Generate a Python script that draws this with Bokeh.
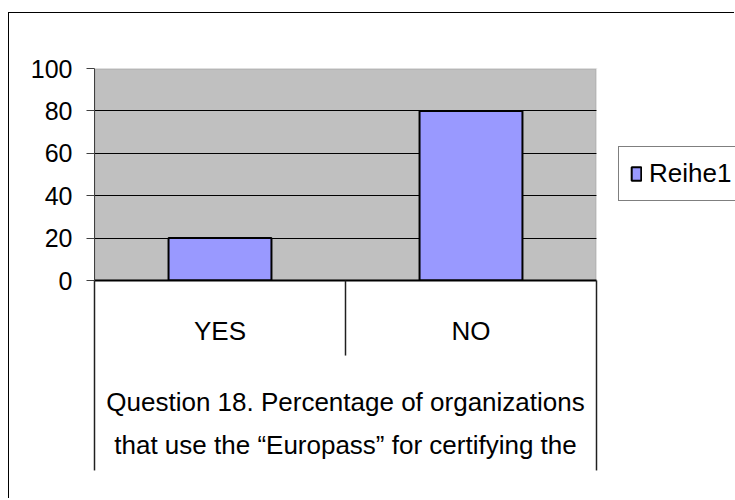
from bokeh.plotting import figure
from bokeh.models import Range1d, FixedTicker, Legend, LegendItem, BoxAnnotation
from bokeh.core.properties import value
from bokeh.embed import file_html
from bokeh.resources import INLINE

# ---- data ----
categories = ["YES", "NO"]
values = [20, 80]
y_ticks = [0, 20, 40, 60, 80, 100]
series_name = "Reihe1"
title_lines = ["Question 18. Percentage of organizations",
               "that use the \u201cEuropass\u201d for certifying the"]

FONT = "Liberation Sans"
BAR = "#9999FF"
PLOT_BG = "#C0C0C0"

n = len(categories)
xs = [i + 0.5 for i in range(n)]          # category centres
bounds = list(range(n + 1))               # category boundaries
# frame is wider than the category area (legend sits to the right)
x_end = n * 641.0 / 502.0

p = figure(width=726, height=486, x_range=Range1d(0, x_end), y_range=Range1d(0, 100),
           output_backend="svg", toolbar_location=None,
           min_border_left=85, min_border_right=0, min_border_top=55, min_border_bottom=219)
p.margin = (12, 0, 0, 8)
p.styles = {"border-left": "1px solid black", "border-top": "1px solid black"}
p.background_fill_color = "white"
p.border_fill_color = "white"
p.outline_line_color = None

# grey plot area limited to the category region
p.add_layout(BoxAnnotation(left=0, right=n, bottom=0, top=100, fill_color=PLOT_BG, fill_alpha=1,
                           line_color="#808080", line_width=2, level="image"))

p.xgrid.visible = False
p.ygrid.grid_line_color = "black"
p.ygrid.grid_line_width = 1
p.ygrid.ticker = FixedTicker(ticks=y_ticks)
# keep the grid lines inside the category region
p.add_layout(BoxAnnotation(left=n, fill_color="white", fill_alpha=1, line_color=None,
                           level="underlay"))

bars = p.vbar(x=xs, top=values, width=0.41, fill_color=BAR,
              line_color="black", line_width=2)

# y axis
ya = p.yaxis[0]
ya.ticker = FixedTicker(ticks=y_ticks)
ya.major_tick_out = 8
ya.major_tick_in = 0
ya.minor_tick_out = 0
ya.minor_tick_in = 0
ya.axis_line_color = "#404040"
ya.axis_line_width = 1
ya.major_tick_line_color = "#404040"
ya.major_label_standoff = 14
ya.major_label_text_font = FONT
ya.major_label_text_font_size = "25px"
ya.major_label_text_color = "black"

# x axis (categories)
xa = p.xaxis[0]
xa.ticker = FixedTicker(ticks=xs)
xa.major_label_overrides = {x: c for x, c in zip(xs, categories)}
xa.bounds = (0, n)
xa.major_tick_out = 0
xa.major_tick_in = 0
xa.minor_tick_out = 0
xa.minor_tick_in = 0
xa.axis_line_color = "black"
xa.axis_line_width = 2
xa.major_label_standoff = 35
xa.major_label_text_font = FONT
xa.major_label_text_font_size = "26px"
xa.major_label_text_color = "black"

# category separators below the axis
inner_len = -35.4
outer_len = -89.6
p.segment(x0=bounds, x1=bounds, y0=[0] * len(bounds),
          y1=[outer_len if b in (0, n) else inner_len for b in bounds],
          line_color="#202020", line_width=1.5, level="overlay")

# axis title (two visible lines)
p.text(x=[n / 2] * len(title_lines), y=[-57.2, -77.6], text=title_lines,
       text_align="center", text_baseline="alphabetic",
       text_font=value(FONT), text_font_size="26px", text_color="black", level="overlay")

legend = Legend(items=[LegendItem(label=series_name, renderers=[bars])], location=(524, 79))
legend.border_line_color = "black"
legend.border_line_width = 1
legend.background_fill_color = "white"
legend.background_fill_alpha = 1
legend.label_text_font = FONT
legend.label_text_font_size = "26px"
legend.label_text_color = "black"
legend.glyph_width = 12
legend.glyph_height = 17
legend.padding = 11
legend.label_standoff = 7
legend.margin = 0
p.add_layout(legend)

open("out.html", "w").write(file_html(p, INLINE))
